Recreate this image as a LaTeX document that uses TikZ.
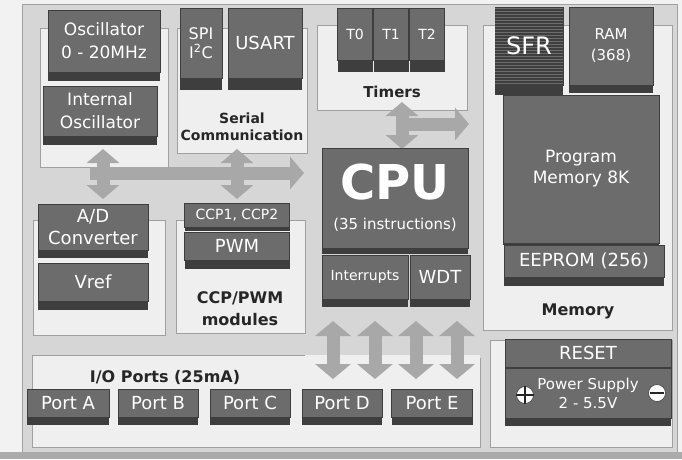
\documentclass[tikz,border=0pt]{standalone}
\usepackage{fontspec}
\setmainfont{DejaVu Sans}
\usepackage{tikz}
\usetikzlibrary{arrows.meta,patterns}
\definecolor{cPaper}{HTML}{F2F2F2}
\definecolor{cBoard}{HTML}{D6D6D6}
\definecolor{cFloor}{HTML}{ABABAB}
\definecolor{cPanel}{HTML}{EFEFEF}
\definecolor{cEdge}{HTML}{A0A0A0}
\definecolor{cBlock}{HTML}{6C6C6C}
\definecolor{cShade}{HTML}{3E3E3E}
\definecolor{cBus}{HTML}{A8A8A8}
\definecolor{cInk}{HTML}{262626}
\newcommand{\fsz}[2]{\fontsize{#1}{#2}\selectfont}
\tikzset{
  panel/.style = {draw=cEdge, fill=cPanel, line width=0.7pt},
  blk/.style   = {draw=cShade, line width=0.4pt, fill=cBlock, text=white,
                  align=center, inner sep=0pt, outer sep=0pt, font=\fsz{17}{22},
                  preaction={fill=cShade, transform canvas={yshift=-#1}}},
  blk/.default = 8pt,
  tag/.style   = {text=cInk, font=\bfseries\fsz{15}{17}, align=center},
  bus/.style   = {draw=cBus, line width=13pt, >={Triangle[width=32pt, length=14pt]}},
  pole/.style  = {circle, fill=white, draw=cShade, line width=0.6pt,
                  minimum size=17pt, inner sep=0pt},
}
\begin{document}
\begin{tikzpicture}[x=1pt, y=-1pt]
  \useasboundingbox (0,0) rectangle (682,459);
  % board
  \fill[cPaper] (0,0) rectangle (682,459);
  \draw[cEdge, fill=cBoard] (22,4) rectangle (677,452);
  \fill[cFloor] (0,452) rectangle (682,459);

  % panels
  \draw[panel] (40,28) rectangle (168,167);
  \draw[panel] (177,28) rectangle (307,153);
  \draw[panel] (317,25) rectangle (467,110);
  \draw[panel] (483,25) rectangle (672,330);
  \draw[panel] (33,220) rectangle (165,335);
  \draw[panel] (176,220) rectangle (305,333);
  \fill[cPanel] (32,355) rectangle (480,447);
  \draw[cEdge, line width=0.7pt] (305,355) -- (32,355) -- (32,447) -- (480,447) -- (480,358);
  \draw[panel] (490,340) rectangle (672,447);

  % buses
  \coordinate (busW) at (90,173);
  \coordinate (busE) at (304,173);
  \coordinate (oscS) at (103,149);
  \coordinate (adcN) at (103,199);
  \coordinate (serS) at (237,149);
  \coordinate (ccpN) at (237,199);
  \draw[bus, ->] (busW) -- (busE);
  \draw[bus, <->] (oscS) -- (adcN);
  \draw[bus, <->] (serS) -- (ccpN);
  \coordinate (timS) at (402,102);
  \coordinate (cpuN) at (402,149);
  \coordinate (timW) at (402,124);
  \coordinate (memW) at (469,124);
  \draw[bus, <->] (timS) -- (cpuN);
  \draw[bus, ->] (timW) -- (memW);
  \foreach \xx [count=\i] in {333,375,416,457} {
    \coordinate (up\i) at (\xx,321);
    \coordinate (dn\i) at (\xx,379);
    \draw[bus, <->, >={Triangle[width=35pt, length=15pt]}] (up\i) -- (dn\i);
  }

  % oscillator
  \node[blk=9pt, minimum width=112, minimum height=62, font=\fsz{17}{23}] (osc) at (104,41)
    {Oscillator\\0 - 20MHz};
  \node[blk=9pt, minimum width=114, minimum height=50, font=\fsz{17}{23}] (intosc) at (100,111)
    {Internal\\Oscillator};

  % serial
  \node[blk=12pt, minimum width=42, minimum height=70, font=\fsz{16}{19}] (spi) at (201,43)
    {SPI\\I\textsuperscript{2}C};
  \node[blk=12pt, minimum width=74, minimum height=70, font=\fsz{18}{20}] (usart) at (265,43)
    {USART};
  \node[tag, font=\bfseries\fsz{14}{17}] (serTag) at (242,127) {Serial\\Communication};

  % timers
  \node[blk=12pt, minimum width=35, minimum height=52, font=\fsz{14}{16}] (t0) at (355,34) {T0};
  \node[blk=12pt, minimum width=35, minimum height=52, font=\fsz{14}{16}] (t1) at (391,34) {T1};
  \node[blk=12pt, minimum width=35, minimum height=52, font=\fsz{14}{16}] (t2) at (427,34) {T2};
  \node[tag] (timTag) at (392,92) {Timers};

  % memory
  \node[blk=10pt, fill=cShade, postaction={pattern=horizontal lines, pattern color=cBlock},
        minimum width=68, minimum height=78, font=\fsz{24}{26}] (sfr) at (529,46) {SFR};
  \node[blk=8pt, minimum width=84, minimum height=78, font=\fsz{15}{21}] (ram) at (611,46)
    {RAM\\(368)};
  \node[blk=2pt, minimum width=156, minimum height=148, font=\fsz{17}{21}] (prog) at (581,169)
    {Program\\Memory 8K};
  \node[blk=9pt, minimum width=160, minimum height=32, font=\fsz{18}{20}] (eep) at (584,261)
    {EEPROM (256)};
  \node[tag, font=\bfseries\fsz{16}{18}] (memTag) at (578,311) {Memory};

  % cpu
  \node[blk=6pt, minimum width=146, minimum height=100] (cpu) at (395,198) {};
  \node[text=white, font=\bfseries\fsz{48}{50}] (cpuName) at (395,182) {CPU};
  \node[text=white, font=\fsz{15}{16}] (cpuNote) at (395,225) {(35 instructions)};
  \node[blk=8pt, minimum width=86, minimum height=44, font=\fsz{14}{16}] (intr) at (365,277)
    {Interrupts};
  \node[blk=8pt, minimum width=60, minimum height=44, font=\fsz{18}{20}] (wdt) at (440,277)
    {WDT};

  % a/d
  \node[blk=8pt, minimum width=110, minimum height=46, font=\fsz{18}{22}] (adc) at (93,227)
    {A/D\\Converter};
  \node[blk=9pt, minimum width=110, minimum height=38, font=\fsz{18}{20}] (vref) at (93,282)
    {Vref};

  % ccp/pwm
  \node[blk=4pt, minimum width=105, minimum height=24, font=\fsz{14}{16}] (ccp) at (237,215)
    {CCP1, CCP2};
  \node[blk=9pt, minimum width=105, minimum height=28, font=\fsz{18}{20}] (pwm) at (237,246)
    {PWM};
  \node[tag, font=\bfseries\fsz{16}{22}] (ccpTag) at (240,309) {CCP/PWM\\modules};

  % i/o ports
  \node[tag, font=\bfseries\fsz{16}{18}] (ioTag) at (165,377) {I/O Ports (25mA)};
  \node[blk, minimum width=82, minimum height=28, font=\fsz{18}{20}] (portA) at (68,403) {Port A};
  \node[blk, minimum width=80, minimum height=28, font=\fsz{18}{20}] (portB) at (158,403) {Port B};
  \node[blk, minimum width=80, minimum height=28, font=\fsz{18}{20}] (portC) at (250,403) {Port C};
  \node[blk, minimum width=80, minimum height=28, font=\fsz{18}{20}] (portD) at (342,403) {Port D};
  \node[blk, minimum width=81, minimum height=28, font=\fsz{18}{20}] (portE) at (432,403) {Port E};

  % reset / power
  \node[blk=2pt, minimum width=166, minimum height=28, font=\fsz{18}{20}] (reset) at (588,353)
    {RESET};
  \node[blk=8pt, minimum width=166, minimum height=50, font=\fsz{15}{19}] (power) at (588,393)
    {Power Supply\\2 - 5.5V};
  \node[pole] (plus) at (525,395) {};
  \draw[cInk, line width=1.2pt] (plus.north) -- (plus.south) (plus.west) -- (plus.east);
  \node[pole] (minus) at (657,393) {};
  \draw[cInk, line width=2.5pt] ([xshift=2pt]minus.west) -- ([xshift=-2pt]minus.east);
\end{tikzpicture}
\end{document}
